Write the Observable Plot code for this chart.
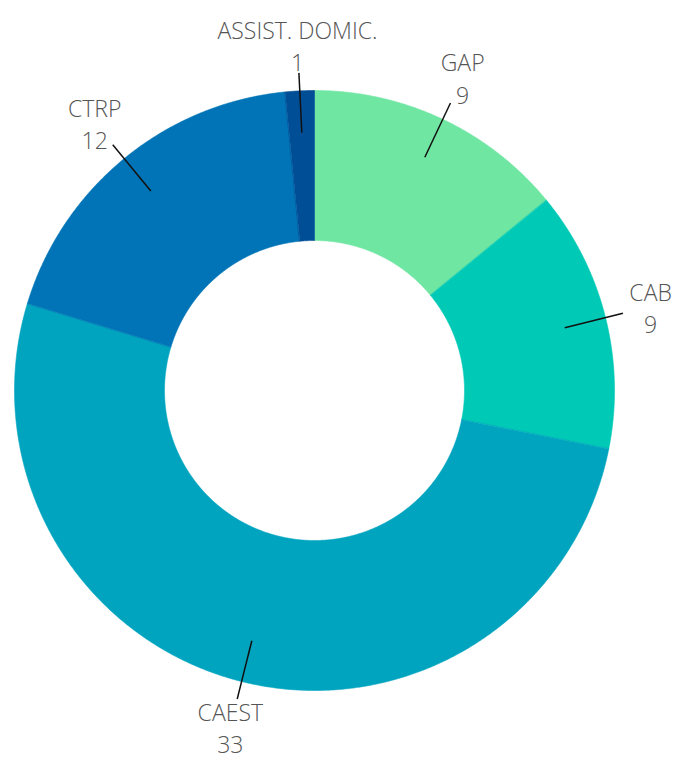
<!DOCTYPE html>
<html>
<head>
<meta charset="utf-8">
<script src="https://cdn.jsdelivr.net/npm/d3@7"></script>
<script src="https://cdn.jsdelivr.net/npm/@observablehq/plot@0.6"></script>
<style>
  html, body { margin: 0; padding: 0; background: #fff; }
  #chart svg { display: block; }
</style>
</head>
<body>
<div id="chart"></div>
<script>
const names = ["GAP", "CAB", "CAEST", "CTRP", "ASSIST. DOMIC."];
const values = [9, 9, 33, 12, 1];
const colors = ["#6fe6a2", "#00c9b5", "#00a4bf", "#0074b6", "#004e96"];

const outerR = 1, innerR = 0.5;
const arcs = d3.pie().sort(null).value(d => d)(values);

// slice outlines (angles from d3.pie, clockwise from 12 o'clock)
const polyRows = [];
arcs.forEach((a, i) => {
  const n = Math.max(8, Math.ceil((a.endAngle - a.startAngle) / 0.005));
  for (let k = 0; k <= n; k++) {
    const t = a.startAngle + (a.endAngle - a.startAngle) * k / n;
    polyRows.push({name: names[i], x: outerR * Math.sin(t), y: outerR * Math.cos(t)});
  }
  for (let k = n; k >= 0; k--) {
    const t = a.startAngle + (a.endAngle - a.startAngle) * k / n;
    polyRows.push({name: names[i], x: innerR * Math.sin(t), y: innerR * Math.cos(t)});
  }
});

const mid = a => (a.startAngle + a.endAngle) / 2;
const leaderRows = arcs.map((a, i) => {
  const m = mid(a);
  return {name: names[i], x1: 0.86 * Math.sin(m), y1: 0.86 * Math.cos(m), x2: 1.06 * Math.sin(m), y2: 1.06 * Math.cos(m)};
});
const labelRows = arcs.map((a, i) => {
  const m = mid(a);
  return {label: names[i] + "\n" + values[i], x: 1.155 * Math.sin(m), y: 1.155 * Math.cos(m)};
});

const chart = Plot.plot({
  width: 681,
  height: 760,
  marginLeft: 14,
  marginRight: 67,
  marginTop: 90,
  marginBottom: 70,
  style: {fontFamily: "'Open Sans', sans-serif", background: "#fff"},
  x: {domain: [-1, 1], axis: null},
  y: {domain: [-1, 1], axis: null},
  color: {domain: names, range: colors},
  marks: [
    Plot.line(polyRows, {x: "x", y: "y", z: "name", fill: "name", stroke: "name", strokeWidth: 0.6, curve: "linear-closed"}),
    Plot.link(leaderRows, {x1: "x1", y1: "y1", x2: "x2", y2: "y2", stroke: "#111", strokeWidth: 1.5}),
    Plot.text(labelRows, {x: "x", y: "y", text: "label", fontSize: 23, lineHeight: 1.4, fill: "#555", fontWeight: 300, textAnchor: "middle"})
  ]
});
document.getElementById("chart").appendChild(chart);
</script>
</body>
</html>
